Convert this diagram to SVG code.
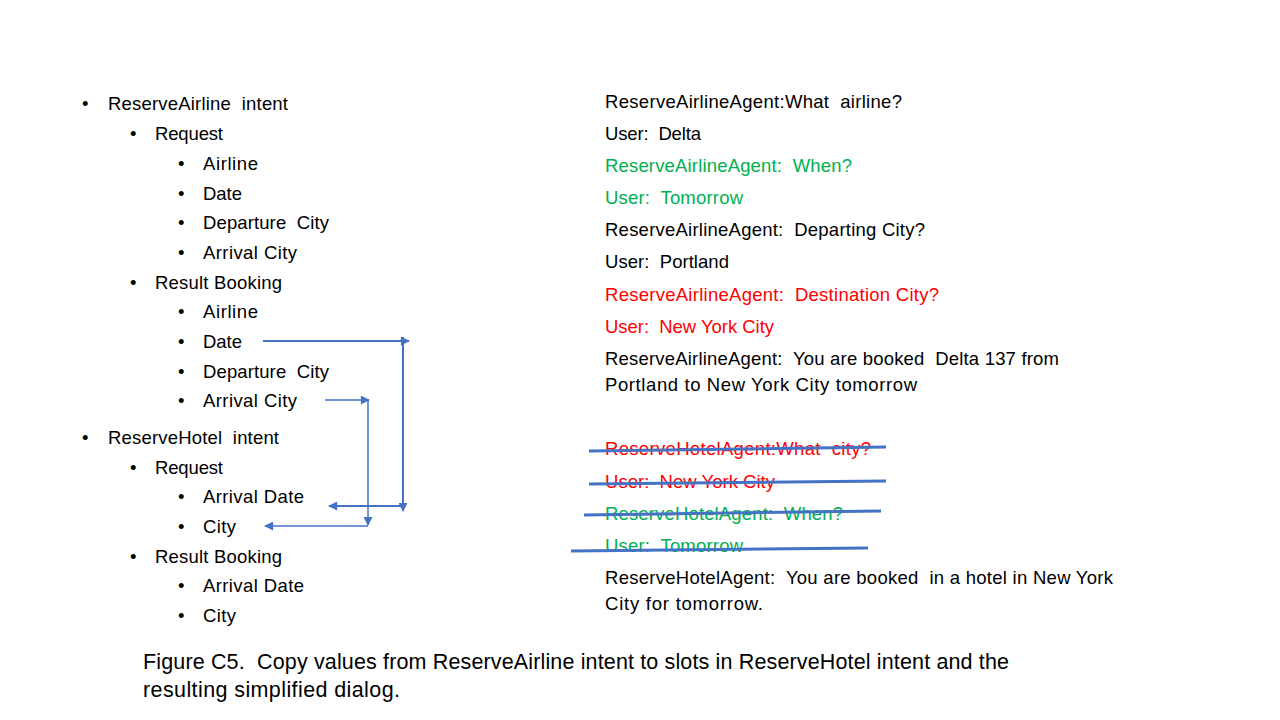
<svg xmlns="http://www.w3.org/2000/svg" width="1280" height="720" viewBox="0 0 1280 720" xml:space="preserve">
<style>
text{font-family:"Liberation Sans",Arial,sans-serif;font-size:18.5px;fill:#000;white-space:pre}
.g{fill:#00B050}
.r{fill:#FF0000}
.cap{font-size:21.5px}
.ln{stroke:#4472C4;fill:none}
.strike{stroke:#4472C4;stroke-width:3;fill:none}
</style>
<defs>
<marker id="ah" viewBox="0 0 10 10" refX="9" refY="5" markerWidth="10" markerHeight="9" markerUnits="userSpaceOnUse" orient="auto">
<path d="M0,0 L10,5 L0,10 z" fill="#4472C4"/>
</marker>
</defs>
<rect width="1280" height="720" fill="#fff"/>
<g id="intent-list">
<text x="82" y="110">•</text><text x="108" y="110" textLength="180">ReserveAirline  intent</text>
<text x="130" y="140">•</text><text x="155" y="140" textLength="68">Request</text>
<text x="178" y="170">•</text><text x="203" y="170" textLength="55">Airline</text>
<text x="178" y="200">•</text><text x="203" y="200" textLength="39">Date</text>
<text x="178" y="229">•</text><text x="203" y="229" textLength="126">Departure  City</text>
<text x="178" y="259">•</text><text x="203" y="259" textLength="94">Arrival City</text>
<text x="130" y="289">•</text><text x="155" y="289" textLength="127">Result Booking</text>
<text x="178" y="318">•</text><text x="203" y="318" textLength="55">Airline</text>
<text x="178" y="348">•</text><text x="203" y="348" textLength="39">Date</text>
<text x="178" y="378">•</text><text x="203" y="378" textLength="126">Departure  City</text>
<text x="178" y="407">•</text><text x="203" y="407" textLength="94">Arrival City</text>
<text x="82" y="444">•</text><text x="108" y="444" textLength="171">ReserveHotel  intent</text>
<text x="130" y="474">•</text><text x="155" y="474" textLength="68">Request</text>
<text x="178" y="503">•</text><text x="203" y="503" textLength="101">Arrival Date</text>
<text x="178" y="533">•</text><text x="203" y="533" textLength="33">City</text>
<text x="130" y="563">•</text><text x="155" y="563" textLength="127">Result Booking</text>
<text x="178" y="592">•</text><text x="203" y="592" textLength="101">Arrival Date</text>
<text x="178" y="622">•</text><text x="203" y="622" textLength="33">City</text>
</g>
<g id="airline-dialog">
<text x="605" y="108" textLength="297">ReserveAirlineAgent:What  airline?</text>
<text x="605" y="140" textLength="96">User:  Delta</text>
<text class="g" x="605" y="172" textLength="247">ReserveAirlineAgent:  When?</text>
<text class="g" x="605" y="204" textLength="138">User:  Tomorrow</text>
<text x="605" y="236" textLength="320">ReserveAirlineAgent:  Departing City?</text>
<text x="605" y="268" textLength="124">User:  Portland</text>
<text class="r" x="605" y="301" textLength="334">ReserveAirlineAgent:  Destination City?</text>
<text class="r" x="605" y="333" textLength="169">User:  New York City</text>
<text x="605" y="365" textLength="454">ReserveAirlineAgent:  You are booked  Delta 137 from</text>
<text x="605" y="391" textLength="312">Portland to New York City tomorrow</text>
</g>
<g id="hotel-dialog">
<text class="r" x="605" y="455" textLength="266">ReserveHotelAgent:What  city?</text>
<text class="r" x="605" y="488" textLength="170">User:  New York City</text>
<text class="g" x="605" y="520" textLength="238">ReserveHotelAgent:  When?</text>
<text class="g" x="605" y="552" textLength="138">User:  Tomorrow</text>
<text x="605" y="584" textLength="508">ReserveHotelAgent:  You are booked  in a hotel in New York</text>
<text x="605" y="610" textLength="158">City for tomorrow.</text>
</g>
<g id="strikes">
<path class="strike" d="M589,451 L886,447"/>
<path class="strike" d="M589,484 L886,481"/>
<path class="strike" d="M584,515 L881,511"/>
<path class="strike" d="M571,551 L868,548"/>
</g>
<g id="connectors">
<path class="ln" stroke-width="2" d="M263,341 L409,341" marker-end="url(#ah)"/>
<path class="ln" stroke-width="2" d="M403,337 L403,511" marker-end="url(#ah)"/>
<path class="ln" stroke-width="2" d="M403,506 L329,506" marker-end="url(#ah)"/>
<path class="ln" stroke-width="1.5" d="M325,400 L369,400" marker-end="url(#ah)"/>
<path class="ln" stroke-width="1.5" d="M368,400 L368,525" marker-end="url(#ah)"/>
<path class="ln" stroke-width="1.5" d="M368,526 L265,526" marker-end="url(#ah)"/>
</g>
<g id="caption">
<text class="cap" x="143" y="669" textLength="866">Figure C5.  Copy values from ReserveAirline intent to slots in ReserveHotel intent and the</text>
<text class="cap" x="143" y="697" textLength="257">resulting simplified dialog.</text>
</g>
</svg>
